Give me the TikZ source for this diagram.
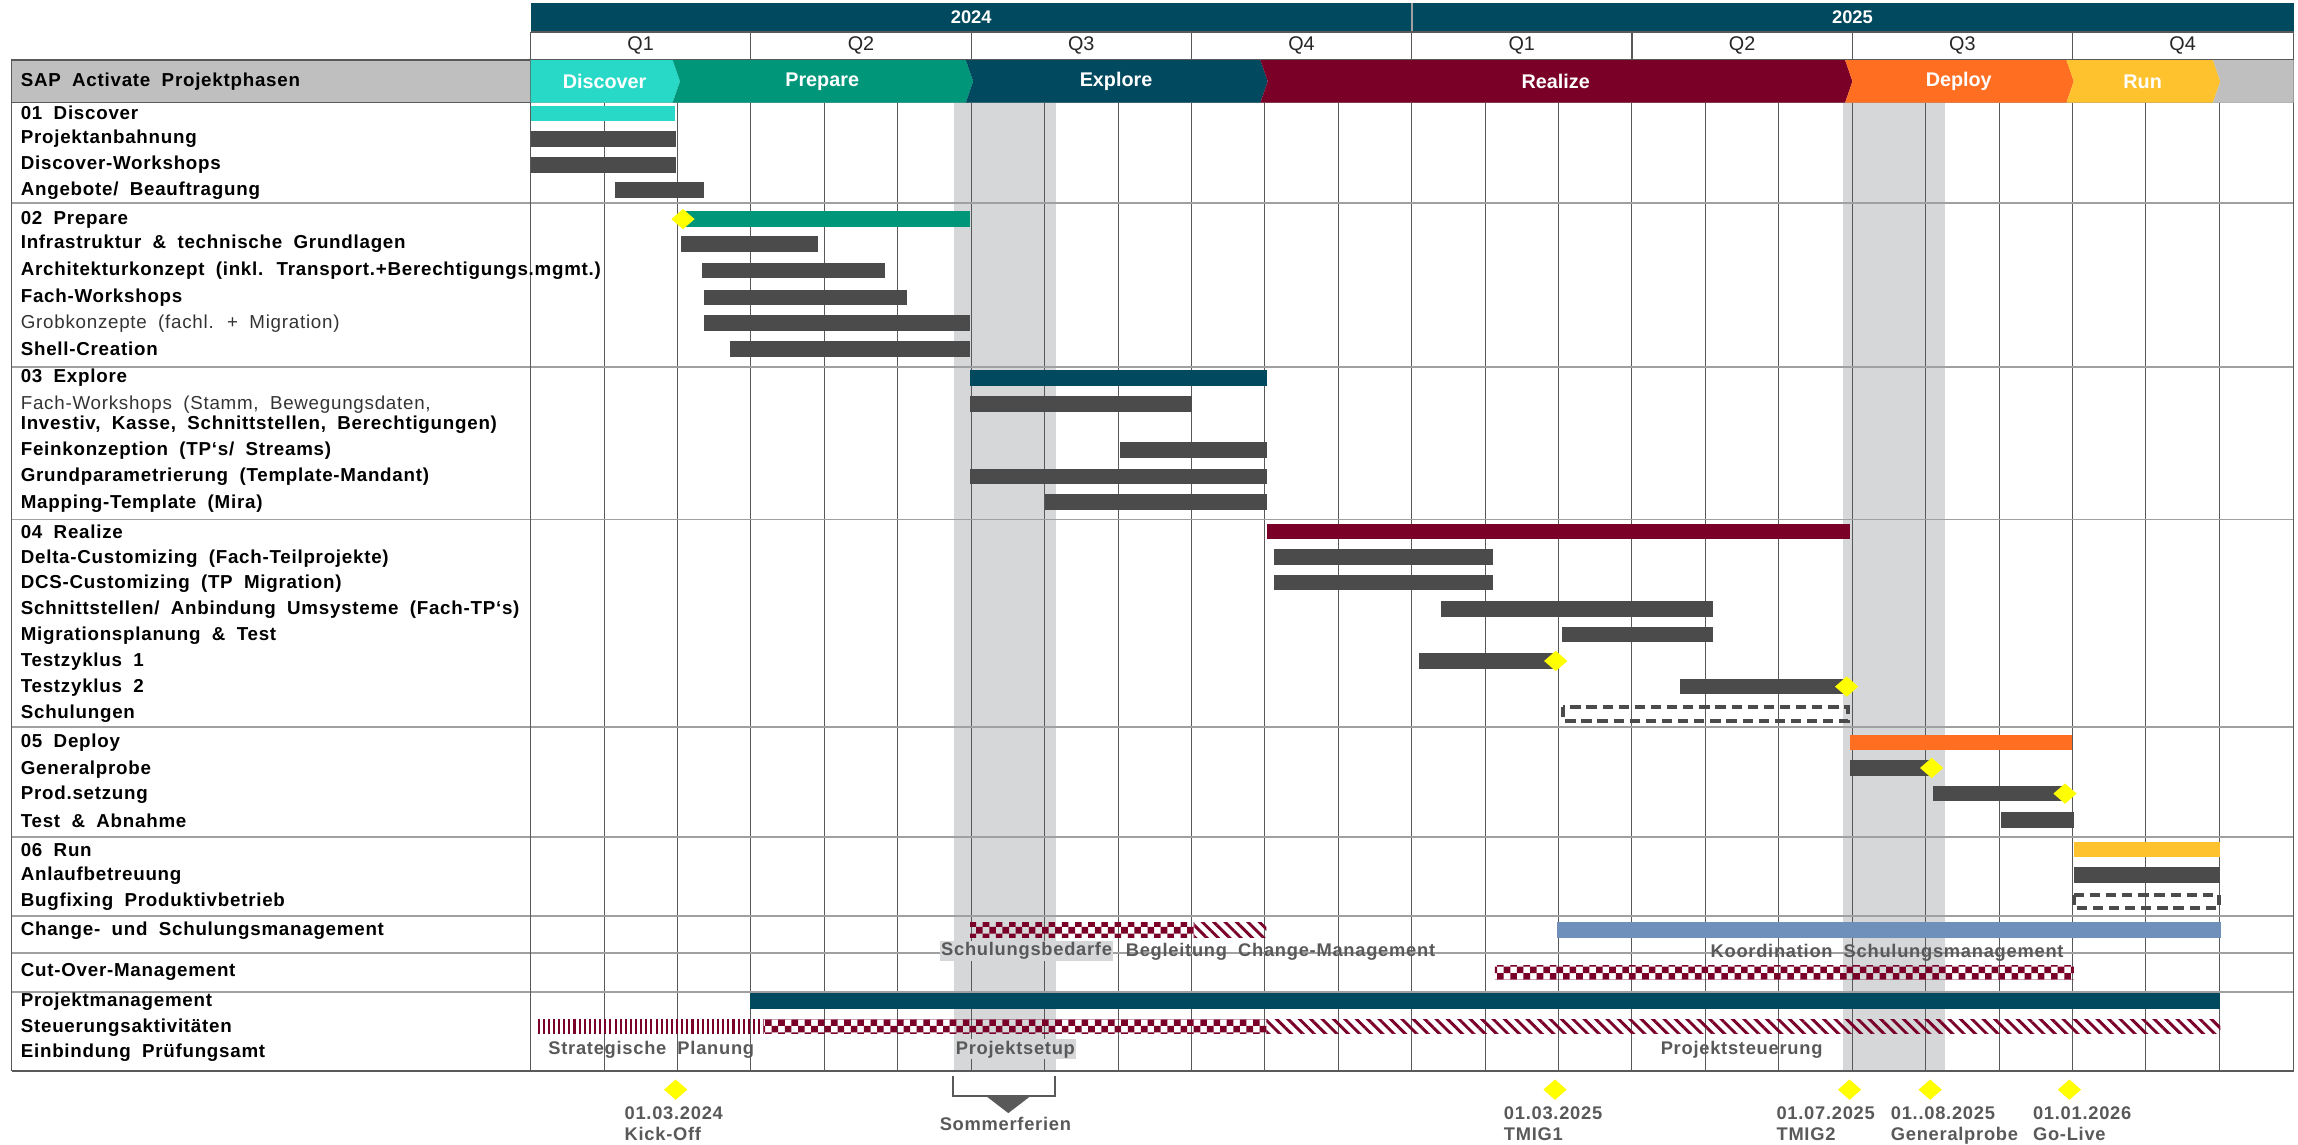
\documentclass[tikz,border=0pt]{standalone}
\usepackage{fontspec}
\setmainfont{Liberation Sans}
\newfontfamily\rowfont[LetterSpace=4,WordSpace=1.9]{Liberation Sans}
\usepackage{xcolor}
\definecolor{sapteal}{HTML}{00495E}
\definecolor{sapcyan}{HTML}{28D9C8}
\definecolor{sapgreen}{HTML}{00967A}
\definecolor{sapred}{HTML}{7A0028}
\definecolor{saporange}{HTML}{FF6E21}
\definecolor{sapyellow}{HTML}{FDC22D}
\definecolor{sapblue}{HTML}{7090BC}
\definecolor{bargray}{HTML}{4B4B4B}
\definecolor{bandgray}{HTML}{D6D7D9}
\definecolor{headgray}{HTML}{BFBFBF}
\definecolor{linegray}{HTML}{595959}
\definecolor{sepgray}{HTML}{A0A0A0}
\definecolor{msyellow}{HTML}{FFFF00}
\usepackage{tikz}
\usetikzlibrary{arrows.meta,positioning,shapes.geometric,calc,patterns,patterns.meta}

% checker pattern with larger cells
\pgfdeclarepatternformonly{checker}{\pgfqpoint{-0.1pt}{-0.1pt}}{\pgfqpoint{9.1pt}{9.1pt}}{\pgfqpoint{9pt}{9pt}}{%
  \pgfpathrectangle{\pgfpointorigin}{\pgfqpoint{4.5pt}{4.5pt}}%
  \pgfpathrectangle{\pgfqpoint{4.5pt}{4.5pt}}{\pgfqpoint{4.5pt}{4.5pt}}%
  \pgfusepath{fill}}

\tikzset{
  rowlabel/.style={anchor=west,inner sep=0pt,font=\rowfont\bfseries\fontsize{12.8}{14}\selectfont},
  rowthin/.style={anchor=west,inner sep=0pt,text=black!80,font=\rowfont\fontsize{12.8}{14}\selectfont},
  planbar/.style={draw=bargray,line width=2.6pt,dash pattern=on 7pt off 4pt},
  mstone/.style={diamond,fill=msyellow,inner sep=0pt,minimum width=16pt,minimum height=14pt},
  chevtext/.style={text=white,font=\bfseries\fontsize{13.5}{15}\selectfont},
  quarter/.style={text=black!85,font=\fontsize{13.5}{15}\selectfont},
  note/.style={text=linegray,inner sep=1pt,font=\rowfont\bfseries\fontsize{12.5}{14}\selectfont},
  sepline/.style={draw=sepgray,line width=1.2pt},
  monthline/.style={draw=linegray,line width=0.6pt},
  checkbar/.style={pattern=checker,pattern color=sapred},
  stripebar/.style={pattern={Lines[angle=-45,distance=5.5pt,line width=2pt]},pattern color=sapred},
  tickbar/.style={pattern={Lines[angle=90,distance=3.5pt,line width=1.4pt]},pattern color=sapred},
}

\begin{document}
\begin{tikzpicture}[x=1pt,y=-1pt]
  \useasboundingbox (0,0) rectangle (1568,781);

  % Sommerferien bands
  \fill[bandgray] (651,70) rectangle (720.5,731);
  \fill[bandgray] (1257.5,70) rectangle (1327,731);

  % month grid
  \foreach \i in {1,...,23}
    \draw[monthline] ({362+50.1*\i},70) -- ({362+50.1*\i},731);

  % group separators
  \foreach \ty in {70,138.5,250.5,354.5,496,571,625,650,677}
    \draw[sepline] (8,\ty) -- (1565,\ty);
  \draw[linegray,line width=1.5pt] (8,731) -- (1565,731);
  \draw[linegray,line width=1pt] (8,41) -- (8,731);
  \draw[linegray,line width=1pt] (362,22) -- (362,731);
  \draw[linegray,line width=1pt] (1565,22) -- (1565,731);

  % years and quarters
  \fill[sapteal] (362,2) rectangle (1565,21);
  \draw[linegray,line width=1pt] (362,21.5) -- (1565,21.5);
  \draw[sepgray,line width=0.8pt] (963.4,2) -- (963.4,21);
  \node[chevtext,font=\bfseries\fontsize{12.5}{14}\selectfont] (y24) at (662.7,12) {2024};
  \node[chevtext,font=\bfseries\fontsize{12.5}{14}\selectfont] (y25) at (1264,12) {2025};
  \draw[linegray,line width=0.8pt] (362,22) rectangle (1565,40.5);
  \foreach \k in {1,...,7}
    \draw[linegray,line width=0.8pt] ({362+150.3*\k},22) -- ({362+150.3*\k},40.5);
  \foreach \k in {0,...,7}{
    \pgfmathtruncatemacro{\q}{mod(\k,4)+1}
    \node[quarter] (q\k) at ({362+150.3*\k+75.15},31) {Q\q};
  }

  % phase chevrons
  \fill[headgray] (8,41) rectangle (362,70);
  \draw[linegray,line width=1pt] (8,41) rectangle (362,70);
  \node[rowlabel] (phasehead) at (14,55.5) {SAP Activate Projektphasen};
  \foreach \xa/\xb/\nn/\col/\txt in {362/459/0/sapcyan/Discover,459/659/5/sapgreen/Prepare,
      659/860/5/sapteal/Explore,860/1259/5/sapred/Realize,1259/1410/5/saporange/Deploy,
      1410/1510/5/sapyellow/Run}{
    \fill[\col] (\xa,41) -- (\xb,41) -- (\xb+5,55.5) -- (\xb,70) -- (\xa,70) -- (\xa+\nn,55.5) -- cycle;
    \node[chevtext] (ph\txt) at ({(\xa+\xb)/2+2},55.5) {\txt};
  }
  \fill[headgray] (1510,41) -- (1565,41) -- (1565,70) -- (1510,70) -- (1515,55.5) -- cycle;

  % row labels
  \foreach \ty/\st/\tx [count=\k] in {77/rowlabel/{01 Discover},94.5/rowlabel/{Projektanbahnung},
      112.5/rowlabel/{Discover-Workshops},130/rowlabel/{Angebote/ Beauftragung},
      150/rowlabel/{02 Prepare},166.5/rowlabel/{Infrastruktur \& technische Grundlagen},
      184.5/rowlabel/{Architekturkonzept (inkl. Transport.+Berechtigungs.mgmt.)},
      203/rowlabel/{Fach-Workshops},220.5/rowthin/{Grobkonzepte (fachl. + Migration)},
      238/rowlabel/{Shell-Creation},258/rowlabel/{03 Explore},
      276/rowthin/{Fach-Workshops (Stamm, Bewegungsdaten,},
      290/rowlabel/{Investiv, Kasse, Schnittstellen, Berechtigungen)},
      307.5/rowlabel/{Feinkonzeption (TP‘s/ Streams)},
      325.5/rowlabel/{Grundparametrierung (Template-Mandant)},
      343.5/rowlabel/{Mapping-Template (Mira)},363/rowlabel/{04 Realize},
      381/rowlabel/{Delta-Customizing (Fach-Teilprojekte)},
      398.5/rowlabel/{DCS-Customizing (TP Migration)},
      416/rowlabel/{Schnittstellen/ Anbindung Umsysteme (Fach-TP‘s)},
      434/rowlabel/{Migrationsplanung \& Test},451.5/rowlabel/{Testzyklus 1},
      469/rowlabel/{Testzyklus 2},487/rowlabel/{Schulungen},507/rowlabel/{05 Deploy},
      525/rowlabel/{Generalprobe},542.5/rowlabel/{Prod.setzung},560/rowlabel/{Test \& Abnahme},
      580/rowlabel/{06 Run},597.5/rowlabel/{Anlaufbetreuung},
      615.5/rowlabel/{Bugfixing Produktivbetrieb},
      635/rowlabel/{Change- und Schulungsmanagement},663/rowlabel/{Cut-Over-Management},
      683.5/rowlabel/{Projektmanagement},701/rowlabel/{Steuerungsaktivitäten},
      718.5/rowlabel/{Einbindung Prüfungsamt}}
    \node[\st] (row\k) at (14,\ty) {\tx};

  % bars
  \foreach \xa/\xb/\ty/\col in {362/460.5/77.3/sapcyan,362/461/95/bargray,362/461/112.5/bargray,
      419.5/480.5/129.5/bargray,466/662/149.5/sapgreen,464.5/558/166.5/bargray,
      479/604/184.5/bargray,480.5/619/203/bargray,480.5/662/220.5/bargray,498/662/238/bargray,
      662/864.5/258/sapteal,662/813/275.5/bargray,764.5/864.5/307/bargray,
      662/864.5/325/bargray,713/864.5/342.5/bargray,864.5/1262/362.5/sapred,
      869.5/1019/380/bargray,869.5/1019/397.5/bargray,983/1169/415.5/bargray,
      1065.5/1169/433/bargray,968/1061/451/bargray,1146/1260/468.5/bargray,
      1262/1414/506.5/saporange,1262/1318/524/bargray,1319/1410/541.5/bargray,
      1365/1415/559.5/bargray,1415/1515/579.5/sapyellow,1415/1515/597/bargray,
      1062.5/1515.5/634.5/sapblue,512/1515/683/sapteal}
    \fill[\col] (\xa,\ty-5.3) rectangle (\xb,\ty+5.3);

  % patterned and planned bars
  \path[checkbar] (662,629.5) rectangle (815,639.5);
  \path[stripebar] (815,629.5) rectangle (864,639.5);
  \path[checkbar] (1020,658.5) rectangle (1415,668);
  \path[tickbar] (365,695.5) rectangle (521,705.5);
  \path[checkbar] (521,695.5) rectangle (864,705.5);
  \path[stripebar] (864,695.5) rectangle (1515,705.5);
  \draw[planbar] (1066.5,482.5) rectangle (1261,492);
  \draw[planbar] (1415,610.5) rectangle (1514,619.5);

  % milestones in the chart
  \node[mstone] (msprep) at (466,149.5) {};
  \node[mstone] (mstz1) at (1061.5,451) {};
  \node[mstone] (mstz2) at (1260,468.5) {};
  \node[mstone] (msgp) at (1318,524) {};
  \node[mstone] (msprod) at (1409,541.5) {};

  % bar notes
  \node[note,fill=bandgray,anchor=west] (nbedarf) at (641,649) {Schulungsbedarfe};
  \node[note,anchor=west] (nbegl) at (767,649.5) {Begleitung Change-Management};
  \node[note,anchor=west] (nkoord) at (1166,650) {Koordination Schulungsmanagement};
  \node[note,anchor=west] (nstrat) at (373,716) {Strategische Planung};
  \node[note,fill=bandgray,anchor=west] (nsetup) at (651,716) {Projektsetup};
  \node[note,anchor=west] (nsteu) at (1132,716) {Projektsteuerung};

  % key dates
  \foreach \mx/\lx/\dt/\nm in {461/425/01.03.2024/Kick-Off,1061/1025/01.03.2025/TMIG1,
      1262/1211/01.07.2025/TMIG2,1317/1289/01..08.2025/Generalprobe,1412/1386/01.01.2026/Go-Live}{
    \node[mstone] (key\nm) at (\mx,743.5) {};
    \node[note,anchor=north west,align=left] (date\nm) at (\lx,754) {\dt\\\nm};
  }

  % Sommerferien
  \draw[linegray,line width=1.2pt] (650.5,734) -- (650.5,748) -- (720,748) -- (720,734);
  \fill[linegray] (673,748) -- (703,748) -- (688,759.5) -- cycle;
  \node[note] (ferien) at (686,767) {Sommerferien};
\end{tikzpicture}
\end{document}
